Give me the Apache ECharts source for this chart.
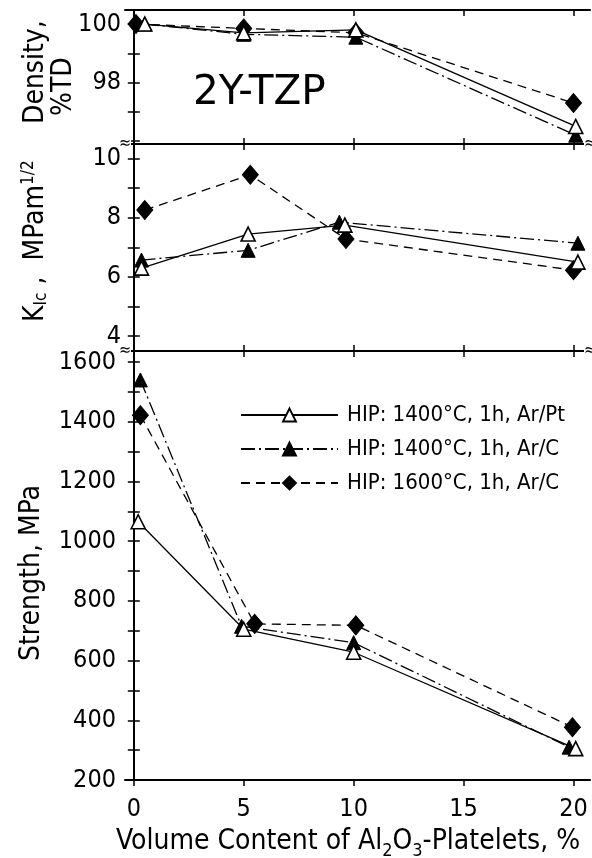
<!DOCTYPE html>
<html>
<head>
<meta charset="utf-8">
<script src="https://cdn.jsdelivr.net/npm/echarts@6/dist/echarts.min.js"></script>
<style>
  html, body { margin: 0; padding: 0; background: #fff; }
  #main { width: 592px; height: 858px; }
</style>
</head>
<body>
<div id="main"></div>
<script>
var xTicks = [0, 5, 10, 15, 20];
var densityTicks = [98, 100];
var densityMinor = [96, 97, 98, 99, 100];
var kicTicks = [4, 6, 8, 10];
var kicMinor = [4, 5, 6, 7, 8, 9, 10];
var strengthTicks = [200, 400, 600, 800, 1000, 1200, 1400, 1600];
var strengthMinor = [200, 300, 400, 500, 600, 700, 800, 900, 1000, 1100, 1200, 1300, 1400, 1500, 1600];

var seriesNames = ['HIP: 1400°C, 1h, Ar/Pt', 'HIP: 1400°C, 1h, Ar/C', 'HIP: 1600°C, 1h, Ar/C'];

// [vol.% platelets, value]
var densityArPt = [[0.5, 100.0], [5.0, 99.7], [10.1, 99.8], [20.1, 96.5]];
var densityArC14 = [[0.5, 100.0], [5.0, 99.65], [10.1, 99.55], [20.1, 96.2]];
var densityArC16 = [[0.1, 100.0], [5.0, 99.85], [10.1, 99.7], [20.0, 97.3]];

var kicArPt = [[0.35, 6.3], [5.2, 7.45], [9.6, 7.75], [20.2, 6.5]];
var kicArC14 = [[0.35, 6.57], [5.2, 6.9], [9.35, 7.85], [20.2, 7.14]];
var kicArC16 = [[0.5, 8.26], [5.3, 9.45], [9.65, 7.28], [20.0, 6.23]];

var strengthArPt = [[0.2, 1065], [5.0, 705], [10.0, 628], [20.1, 305]];
var strengthArC14 = [[0.3, 1540], [4.9, 715], [10.0, 660], [19.8, 310]];
var strengthArC16 = [[0.3, 1422], [5.5, 723], [10.1, 718], [19.95, 377]];

var FONT = '"DejaVu Sans Condensed", "Liberation Sans Narrow", "DejaVu Sans", sans-serif';
var black = '#000';

var chart = echarts.init(document.getElementById('main'), null, { renderer: 'canvas' });

var grids = [
  { left: 125, right: 2, top: 10, height: 134 },
  { left: 125, right: 2, top: 144, height: 207 },
  { left: 125, right: 2, top: 351, height: 429 }
];
var yRanges = [[95.9, 100.48], [3.5, 10.49], [200, 1637]];
var yLabels = [densityTicks, kicTicks, strengthTicks];
var yMinor = [densityMinor, kicMinor, strengthMinor];
var yMargins = [4, 4, 9];

var lineAxis = { show: true, lineStyle: { color: black, width: 2 } };
var plain = function (v) { return String(v); };

var xAxes = [], yAxes = [];
grids.forEach(function (g, i) {
  // bottom
  xAxes.push({
    type: 'value', gridIndex: i, min: -0.4, max: 20.75, position: 'bottom',
    axisLine: lineAxis,
    axisTick: { show: true, inside: i < 2, length: 6, customValues: xTicks, lineStyle: { color: black, width: 1.5 } },
    axisLabel: { show: i === 2, customValues: xTicks, formatter: plain, color: black, fontFamily: FONT, fontSize: 25, margin: 17 },
    splitLine: { show: false }
  });
  // top
  xAxes.push({
    type: 'value', gridIndex: i, min: -0.4, max: 20.75, position: 'top',
    axisLine: lineAxis,
    axisTick: { show: true, inside: true, length: 6, customValues: xTicks, lineStyle: { color: black, width: 1.5 } },
    axisLabel: { show: false },
    splitLine: { show: false }
  });
  yAxes.push({
    type: 'value', gridIndex: i, min: yRanges[i][0], max: yRanges[i][1], position: 'left',
    axisLine: lineAxis,
    axisTick: { show: true, inside: true, length: 6, customValues: yMinor[i], lineStyle: { color: black, width: 1.5 } },
    axisLabel: { customValues: yLabels[i], formatter: plain, color: black, fontFamily: FONT, fontSize: 25, margin: yMargins[i] },
    splitLine: { show: false }
  });
  yAxes.push({
    type: 'value', gridIndex: i, min: yRanges[i][0], max: yRanges[i][1], position: 'right',
    axisLine: lineAxis,
    axisTick: { show: true, inside: true, length: 6, customValues: yMinor[i], lineStyle: { color: black, width: 1.5 } },
    axisLabel: { show: false },
    splitLine: { show: false }
  });
});

var styles = [
  { lineStyle: { color: black, width: 1.3, type: 'solid' }, symbol: 'triangle', symbolSize: 14,
    itemStyle: { color: '#fff', borderColor: black, borderWidth: 1.6 } },
  { lineStyle: { color: black, width: 1.3, type: [14, 4, 2, 4] }, symbol: 'triangle', symbolSize: 14,
    itemStyle: { color: black, borderColor: black, borderWidth: 1 } },
  { lineStyle: { color: black, width: 1.3, type: [9, 6] }, symbol: 'diamond', symbolSize: [16, 19],
    itemStyle: { color: black, borderColor: black, borderWidth: 1 } }
];

var panelData = [
  [densityArPt, densityArC14, densityArC16],
  [kicArPt, kicArC14, kicArC16],
  [strengthArPt, strengthArC14, strengthArC16]
];

var series = [];
panelData.forEach(function (rows, p) {
  rows.forEach(function (d, k) {
    series.push({
      name: seriesNames[k],
      type: 'line',
      xAxisIndex: p * 2,
      yAxisIndex: p * 2,
      data: d,
      symbol: styles[k].symbol,
      symbolSize: styles[k].symbolSize,
      lineStyle: styles[k].lineStyle,
      itemStyle: styles[k].itemStyle,
      showAllSymbol: true,
      z: 3 - k
    });
  });
});

function breakMark(x, y) {
  return {
    type: 'text', x: x, y: y, z: 100,
    style: { text: '≈', fontSize: 16, fontFamily: FONT, fill: black, align: 'center', verticalAlign: 'middle',
      backgroundColor: '#fff' }
  };
}

var option = {
  backgroundColor: '#fff',
  animation: false,
  grid: grids,
  xAxis: xAxes,
  yAxis: yAxes,
  legend: {
    data: seriesNames,
    orient: 'vertical',
    left: 240,
    top: 404,
    padding: 0,
    itemWidth: 97,
    itemHeight: 16,
    itemGap: 12,
    textStyle: { color: black, fontFamily: FONT, fontSize: 22, padding: [0, 0, 0, 4] }
  },
  series: series,
  graphic: [
    { type: 'text', left: 193, top: 73, scaleX: 1.1,
      style: { text: '2Y-TZP', fontSize: 41, fontFamily: FONT, fill: black } },
    { type: 'text', x: 36, y: 124, rotation: Math.PI / 2,
      style: { text: 'Density,', fontSize: 28, fontFamily: FONT, fill: black, align: 'left', verticalAlign: 'middle' } },
    { type: 'text', x: 64, y: 116, rotation: Math.PI / 2,
      style: { text: '%TD', fontSize: 28, fontFamily: FONT, fill: black, align: 'left', verticalAlign: 'middle' } },
    { type: 'text', x: 36, y: 322, rotation: Math.PI / 2,
      style: {
        text: '{a|K}{s|Ic}{a| ,  MPam}{p|1/2}', align: 'left', verticalAlign: 'middle', fill: black,
        rich: {
          a: { fontSize: 28, fontFamily: FONT, fill: black, lineHeight: 40, verticalAlign: 'middle' },
          s: { fontSize: 17, fontFamily: FONT, fill: black, lineHeight: 40, verticalAlign: 'bottom', padding: [0, 0, 6, 0] },
          p: { fontSize: 17, fontFamily: FONT, fill: black, lineHeight: 40, verticalAlign: 'top', padding: [4, 0, 0, 0] }
        }
      } },
    { type: 'text', x: 32, y: 661, rotation: Math.PI / 2,
      style: { text: 'Strength, MPa', fontSize: 28, fontFamily: FONT, fill: black, align: 'left', verticalAlign: 'middle' } },
    { type: 'text', x: 116, y: 842,
      style: {
        text: '{a|Volume Content of Al}{s|2}{a|O}{s|3}{a|-Platelets, %}', align: 'left', verticalAlign: 'middle', fill: black,
        rich: {
          a: { fontSize: 28, fontFamily: FONT, fill: black, lineHeight: 36, verticalAlign: 'middle' },
          s: { fontSize: 18, fontFamily: FONT, fill: black, lineHeight: 36, verticalAlign: 'bottom' }
        }
      } },
    breakMark(125, 144),
    breakMark(125, 351),
    breakMark(590, 144),
    breakMark(590, 351)
  ]
};

chart.setOption(option);
</script>
</body>
</html>
